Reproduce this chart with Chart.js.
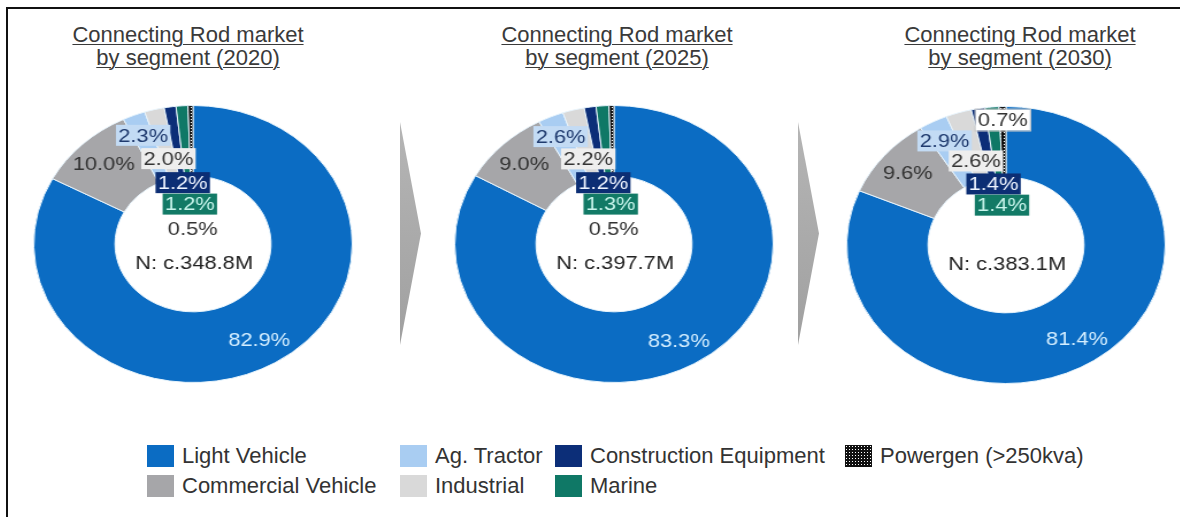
<!DOCTYPE html>
<html><head><meta charset="utf-8">
<script src="https://cdn.jsdelivr.net/npm/chart.js@4.4.1/dist/chart.umd.min.js"></script>
<style>
html,body{margin:0;padding:0;background:#fff;}
body{width:1180px;height:517px;position:relative;overflow:hidden;font-family:'Liberation Sans',Arial,sans-serif;}
.frame-top{position:absolute;left:6px;top:7px;width:1174px;height:2px;background:#111;}
.frame-left{position:absolute;left:6px;top:7px;width:2px;height:510px;background:#111;}
.title{position:absolute;top:23px;width:320px;text-align:center;font-size:22px;line-height:23px;color:#3a3a3a;text-decoration:underline;text-decoration-thickness:1px;text-underline-offset:2px;}
.donut{position:absolute;width:300px;height:300px;transform:scaleX(1.15);transform-origin:50% 50%;}
.arrow{position:absolute;width:21px;height:223px;background:linear-gradient(#b5b5b5,#a0a0a0);clip-path:polygon(0 0,100% 50%,0 100%);}
.lg{position:absolute;height:22px;display:flex;align-items:center;font-size:22px;color:#333;white-space:nowrap;}
.lg .sw{width:27px;height:22px;margin-right:8px;flex:none;}
</style></head>
<body>
<div class="frame-top"></div><div class="frame-left"></div>
<div id="root"></div>
<script>
// ---- data ----
const categories = ['Light Vehicle','Commercial Vehicle','Ag. Tractor','Industrial','Construction Equipment','Marine','Powergen (>250kva)'];
const years = ['2020','2025','2030'];
const share2020 = [82.9, 10.0, 2.3, 2.0, 1.2, 1.2, 0.5];
const share2025 = [83.3, 9.0, 2.6, 2.2, 1.2, 1.3, 0.5];
const share2030 = [81.4, 9.6, 2.9, 2.6, 1.4, 1.4, 0.7];
const marketSizeM = [348.8, 397.7, 383.1];
const titleLine1 = 'Connecting Rod market';
const titleLine2 = 'by segment';

// ---- styles ----
const segColors = ['#0b6cc3','#a6a6a9','#a9cdf2','#d9d9d9','#0c2e78','#0f7866', null];
const labelStyles = [
  {color:'#d4eeff'},
  {color:'#333333'},
  {color:'#1f3a6e', bg:'#c3dbf4'},
  {color:'#333333', bg:'#eeeeee'},
  {color:'#eef4ff', bg:'#0c2e74'},
  {color:'#c8f5ec', bg:'#127a66'},
  {color:'#333333'}
];
const labelRadius = [112, 112, 117, 88, 62, 40, 15];
const layout = [
  {cx:192.5, cy:244, titleX:188, pgRadius:null, pgBox:false},
  {cx:613.5, cy:244, titleX:617, pgRadius:null, pgBox:false},
  {cx:1006, cy:245, titleX:1020, pgRadius:125, pgBox:true}
];
const shares = [share2020, share2025, share2030];

function dotPattern(){
  const c = document.createElement('canvas'); c.width = 3; c.height = 3;
  const x = c.getContext('2d');
  x.fillStyle = '#111'; x.fillRect(0,0,3,3);
  x.fillStyle = '#fff'; x.fillRect(1,1,1,1);
  return x.createPattern(c, 'repeat');
}

const labelPlugin = {
  id: 'segLabels',
  afterDatasetsDraw(chart, args, opts) {
    const ctx = chart.ctx;
    const meta = chart.getDatasetMeta(0);
    const data = chart.data.datasets[0].data;
    const fs = 19;
    ctx.save();
    ctx.font = fs + "px 'Liberation Sans', Arial, sans-serif";
    ctx.textAlign = 'center'; ctx.textBaseline = 'middle';
    meta.data.forEach((arc, i) => {
      const st = labelStyles[i];
      let r = labelRadius[i];
      const isPg = i === data.length - 1;
      if (isPg && opts.pgRadius) r = opts.pgRadius;
      const mid = (arc.startAngle + arc.endAngle) / 2;
      const x = arc.x + Math.cos(mid) * r;
      const y = arc.y + Math.sin(mid) * r;
      const txt = data[i].toFixed(1) + '%';
      const w = ctx.measureText(txt).width;
      if (st.bg || (isPg && opts.pgBox)) {
        ctx.fillStyle = st.bg || '#ffffff';
        ctx.fillRect(x - w/2 - 2, y - fs/2 - 1, w + 4, fs + 2);
        if (isPg && opts.pgBox) { ctx.strokeStyle = '#c8c8c8'; ctx.lineWidth = 1; ctx.strokeRect(x - w/2 - 2.5, y - fs/2 - 1.5, w + 5, fs + 3); }
      }
      ctx.fillStyle = st.color;
      ctx.fillText(txt, x, y + 1);
    });
    const a0 = meta.data[0];
    ctx.fillStyle = '#222';
    ctx.fillText(opts.centerText, a0.x + 1, a0.y + 20);
    ctx.restore();
  }
};

const root = document.getElementById('root');
const pattern = dotPattern();

years.forEach((yr, k) => {
  const L = layout[k];
  const t = document.createElement('div');
  t.className = 'title';
  t.style.left = (L.titleX - 160) + 'px';
  t.innerHTML = titleLine1 + '<br>' + titleLine2 + ' (' + yr + ')';
  root.appendChild(t);

  const wrap = document.createElement('div');
  wrap.className = 'donut';
  wrap.style.left = (L.cx - 150) + 'px';
  wrap.style.top = (L.cy - 150) + 'px';
  const cv = document.createElement('canvas');
  cv.width = 300; cv.height = 300;
  cv.style.width = '300px'; cv.style.height = '300px';
  wrap.appendChild(cv);
  root.appendChild(wrap);

  new Chart(cv, {
    type: 'doughnut',
    data: {
      labels: categories,
      datasets: [{
        data: shares[k],
        backgroundColor: segColors.map(c => c || pattern),
        borderColor: '#e8f4fc',
        borderWidth: 1
      }]
    },
    options: {
      responsive: false,
      animation: false,
      events: [],
      cutout: '49%',
      layout: {padding: 11},
      plugins: {
        legend: {display: false},
        tooltip: {enabled: false},
        segLabels: {centerText: 'N: c.' + marketSizeM[k].toFixed(1) + 'M', pgRadius: L.pgRadius, pgBox: L.pgBox}
      }
    },
    plugins: [labelPlugin]
  });
});

// arrows between charts
[400, 798].forEach(x => {
  const a = document.createElement('div');
  a.className = 'arrow';
  a.style.left = x + 'px'; a.style.top = '122px';
  root.appendChild(a);
});

// legend (column-major, 2 rows)
const colLeft = [147, 400, 555, 845];
const rowTop = [445, 475];
categories.forEach((name, i) => {
  const col = Math.floor(i / 2), row = i % 2;
  const d = document.createElement('div');
  d.className = 'lg';
  d.style.left = colLeft[col] + 'px';
  d.style.top = rowTop[row] + 'px';
  const sw = document.createElement('span');
  sw.className = 'sw';
  if (segColors[i]) sw.style.background = segColors[i];
  else { sw.style.backgroundColor = '#111'; sw.style.backgroundImage = 'radial-gradient(#fff 0.7px, transparent 0.9px)'; sw.style.backgroundSize = '3px 3px'; }
  d.appendChild(sw);
  d.appendChild(document.createTextNode(name));
  root.appendChild(d);
});
</script>
</body></html>
